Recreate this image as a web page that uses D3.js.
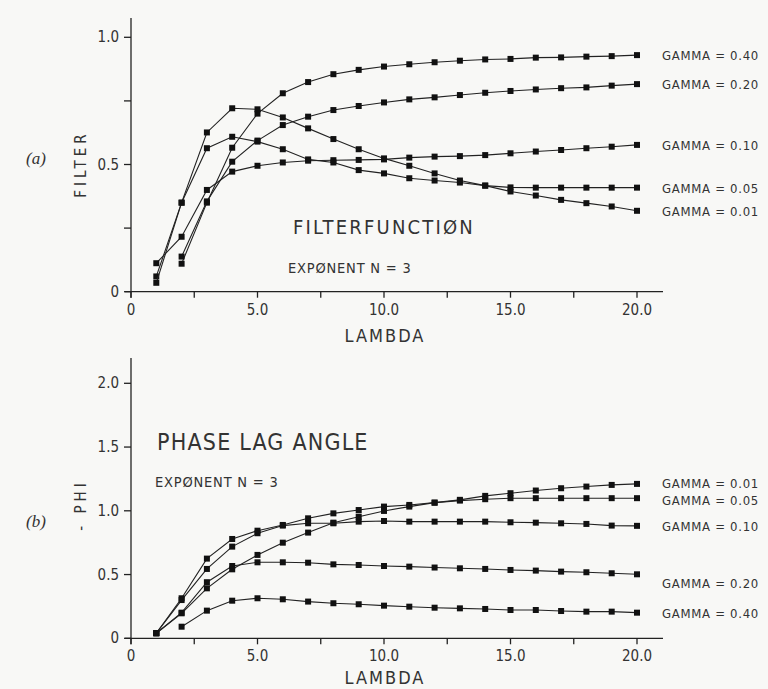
<!DOCTYPE html>
<html>
<head>
<meta charset="utf-8">
<script src="https://cdn.jsdelivr.net/npm/d3@7"></script>
<style>
body { margin:0; background:#f8f8f6; }
svg text { font-family:"Liberation Sans Narrow","DejaVu Sans Condensed","Liberation Sans",sans-serif; fill:#333; }
</style>
</head>
<body>
<div id="fig"></div>
<script>
var width = 768,
height = 689;

// lambda values (x)
var lambda = [1,2,3,4,5,6,7,8,9,10,11,12,13,14,15,16,17,18,19,20];
var gammaNames = ["0.40","0.20","0.10","0.05","0.01"];

// (a) filter function, exponent n = 3
var filter040 = [null,0.11,0.35,0.566,0.70,0.78,0.824,0.855,0.872,0.885,0.894,0.902,0.908,0.913,0.915,0.92,0.921,0.924,0.926,0.93];
var filter020 = [null,0.138,0.355,0.511,0.594,0.655,0.688,0.714,0.73,0.744,0.756,0.764,0.773,0.782,0.789,0.795,0.80,0.803,0.81,0.816];
var filter010 = [0.112,0.216,0.40,0.472,0.495,0.508,0.515,0.517,0.518,0.52,0.527,0.531,0.533,0.537,0.544,0.551,0.557,0.564,0.57,0.577];
var filter005 = [0.06,0.35,0.564,0.609,0.59,0.56,0.52,0.508,0.478,0.465,0.446,0.437,0.429,0.417,0.41,0.409,0.409,0.409,0.409,0.409];
var filter001 = [0.035,0.35,0.626,0.721,0.717,0.685,0.642,0.60,0.56,0.524,0.495,0.465,0.437,0.417,0.394,0.378,0.361,0.348,0.335,0.318];

// (b) phase lag angle -phi
var phi040 = [null,0.091,0.217,0.295,0.314,0.306,0.288,0.275,0.267,0.256,0.248,0.24,0.235,0.23,0.222,0.222,0.214,0.209,0.209,0.201];
var phi020 = [0.04,0.201,0.44,0.567,0.596,0.596,0.593,0.58,0.575,0.567,0.562,0.555,0.549,0.544,0.536,0.531,0.523,0.518,0.51,0.502];
var phi010 = [0.04,0.30,0.544,0.719,0.824,0.884,0.902,0.902,0.915,0.92,0.915,0.915,0.915,0.915,0.91,0.907,0.902,0.897,0.884,0.882];
var phi005 = [0.04,0.314,0.625,0.779,0.844,0.889,0.941,0.98,1.006,1.033,1.046,1.064,1.08,1.091,1.099,1.099,1.099,1.099,1.099,1.099];
var phi001 = [0.04,0.196,0.392,0.541,0.654,0.75,0.829,0.907,0.954,0.999,1.033,1.064,1.086,1.117,1.138,1.159,1.177,1.19,1.203,1.211];

var xTicks = [0,5,10,15,20],
xMinor = [2.5,7.5,12.5,17.5],
xTickLabels = ["0","5.0","10.0","15.0","20.0"];
var yTicksA = [0,0.5,1.0], yMinorA = [0.25,0.75], yLabelsA = ["0","0.5","1.0"];
var yTicksB = [0,0.5,1.0,1.5,2.0], yLabelsB = ["0","0.5","1.0","1.5","2.0"];

var svg = d3.select("#fig").append("svg")
	.attr("width",width)
	.attr("height",height)
	.style("background-color","#f8f8f6");

function panel(opt){
	var x = d3.scaleLinear().domain([0,20]).range([131,637]);
	var y = d3.scaleLinear().domain(opt.ydom).range(opt.yrange);
	var g = svg.append("g");
	var y0 = y(0);

	// axes lines
	g.append("line").attr("x1",125).attr("x2",663).attr("y1",y0).attr("y2",y0)
		.attr("stroke","#222").attr("stroke-width",1.3);
	g.append("line").attr("x1",x(0)).attr("x2",x(0)).attr("y1",y0+6).attr("y2",opt.ytop)
		.attr("stroke","#222").attr("stroke-width",1.3);

	// x ticks
	g.selectAll(".xt").data(xTicks.concat(xMinor)).enter().append("line")
		.attr("x1",function(d){return x(d)}).attr("x2",function(d){return x(d)})
		.attr("y1",y0).attr("y2",y0+6)
		.attr("stroke","#222").attr("stroke-width",1.3);
	g.selectAll(".xl").data(xTicks).enter().append("text")
		.attr("x",function(d){return x(d)}).attr("y",y0+23)
		.attr("text-anchor","middle").attr("font-size",15)
		.text(function(d,i){return xTickLabels[i]});
	g.append("text").attr("x",385).attr("y",y0+opt.lamDy)
		.attr("text-anchor","middle").attr("font-size",18).attr("letter-spacing",2)
		.text("LAMBDA");

	// y ticks
	g.selectAll(".yt").data(opt.yticks.concat(opt.yminor)).enter().append("line")
		.attr("x1",x(0)-7).attr("x2",x(0))
		.attr("y1",function(d){return y(d)}).attr("y2",function(d){return y(d)})
		.attr("stroke","#222").attr("stroke-width",1.3);
	g.selectAll(".yl").data(opt.yticks).enter().append("text")
		.attr("x",119).attr("y",function(d){return y(d)+5})
		.attr("text-anchor","end").attr("font-size",15)
		.text(function(d,i){return opt.ylabels[i]});

	// y label
	g.append("text")
		.attr("transform","translate(86,"+opt.ylabY+") rotate(-90)")
		.attr("text-anchor","middle").attr("font-size",15).attr("letter-spacing",4)
		.text(opt.ylab);
	g.append("text").attr("x",36).attr("y",opt.tagY)
		.attr("text-anchor","middle").attr("font-size",17)
		.style("font-family","'Liberation Serif',serif").style("font-style","italic")
		.text(opt.tag);

	// series
	var line = d3.line()
		.defined(function(d){return d!=null})
		.x(function(d,i){return x(lambda[i])})
		.y(function(d){return y(d)});
	opt.series.forEach(function(s,k){
		g.append("path").attr("d",line(s))
			.attr("fill","none").attr("stroke","#222").attr("stroke-width",1.1);
		var pts = [];
		s.forEach(function(v,i){ if(v!=null) pts.push([lambda[i],v]); });
		g.selectAll(null).data(pts).enter().append("rect")
			.attr("x",function(d){return x(d[0])-3}).attr("y",function(d){return y(d[1])-3})
			.attr("width",6).attr("height",6).attr("fill","#111");
		var last = s[s.length-1];
		g.append("text").attr("x",662).attr("y",y(last)+5+(opt.labDy[k]||0))
			.attr("font-size",13).attr("letter-spacing",0.7)
			.text("GAMMA = " + gammaNames[k]);
	});

	// annotations
	opt.notes.forEach(function(n){
		g.append("text").attr("x",n.x).attr("y",n.y)
			.attr("font-size",n.size).attr("letter-spacing",n.ls)
			.text(n.t);
	});
}

panel({
	ydom:[0,1], yrange:[291.7,37.3], ytop:18,
	yticks:yTicksA, yminor:yMinorA, ylabels:yLabelsA,
	ylab:"FILTER", ylabY:164, tag:"(a)", tagY:164, lamDy:50,
	series:[filter040,filter020,filter010,filter005,filter001],
	labDy:[0,0,0,0,0],
	notes:[{t:"FILTERFUNCTIØN",x:293,y:234,size:20,ls:2.2},
		{t:"EXPØNENT N = 3",x:288,y:273,size:14.5,ls:0.8}]
});

panel({
	ydom:[0,2], yrange:[638.3,383.3], ytop:358,
	yticks:yTicksB, yminor:[], ylabels:yLabelsB,
	ylab:"- PHI", ylabY:505, tag:"(b)", tagY:527, lamDy:46,
	series:[phi040,phi020,phi010,phi005,phi001],
	labDy:[0,9,0,2,-1],
	notes:[{t:"PHASE LAG ANGLE",x:157,y:450,size:23,ls:1.2},
		{t:"EXPØNENT N = 3",x:155,y:487,size:14.5,ls:0.8}]
});
</script>
</body>
</html>
